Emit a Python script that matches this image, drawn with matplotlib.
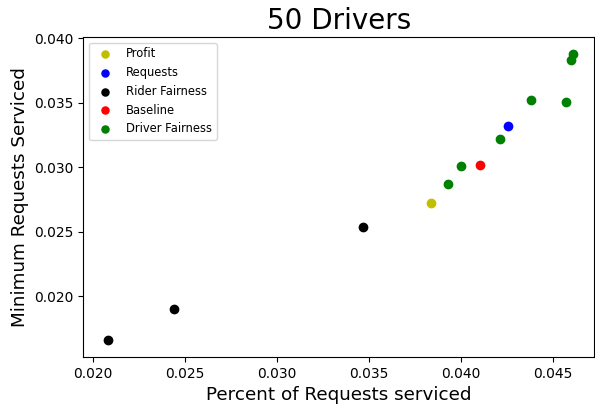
from matplotlib import pyplot as plt

# Percent of requests serviced (x) and minimum requests serviced (y)
profit_x = [0.03837]
profit_y = [0.02726]

requests_x = [0.04259]
requests_y = [0.03318]

rider_x = [0.02082, 0.02438, 0.03467]
rider_y = [0.01656, 0.01899, 0.02532]

baseline_x = [0.04105]
baseline_y = [0.03016]

driver_x = [0.03933, 0.04000, 0.04217, 0.04384, 0.04574, 0.04600, 0.04611]
driver_y = [0.02873, 0.03010, 0.03217, 0.03519, 0.03506, 0.03834, 0.03881]

fig = plt.figure(figsize=(5.95, 4.05), dpi=100)
ax = fig.add_subplot(111)
fig.subplots_adjust(left=0.140, right=0.999, bottom=0.118, top=0.909)

ax.scatter(profit_x, profit_y, c='y', label='Profit')
ax.scatter(requests_x, requests_y, c='b', label='Requests')
ax.scatter(rider_x, rider_y, c='k', label='Rider Fairness')
ax.scatter(baseline_x, baseline_y, c='r', label='Baseline')
ax.scatter(driver_x, driver_y, c='g', label='Driver Fairness')

ax.set_xlim(0.01947, 0.04728)
ax.set_ylim(0.01525, 0.04012)
ax.set_xticks([0.020, 0.025, 0.030, 0.035, 0.040, 0.045])
ax.set_yticks([0.020, 0.025, 0.030, 0.035, 0.040])
ax.set_xticklabels(['0.020', '0.025', '0.030', '0.035', '0.040', '0.045'])
ax.set_yticklabels(['0.020', '0.025', '0.030', '0.035', '0.040'])

ax.set_title("50 Drivers", fontsize=20)
ax.set_xlabel("Percent of Requests serviced", fontsize=13.2)
ax.set_ylabel("Minimum Requests Serviced", fontsize=13.2)
ax.legend(loc='upper left', fontsize=8.3, markerscale=0.85)

fig.savefig("out.png", dpi=100)
